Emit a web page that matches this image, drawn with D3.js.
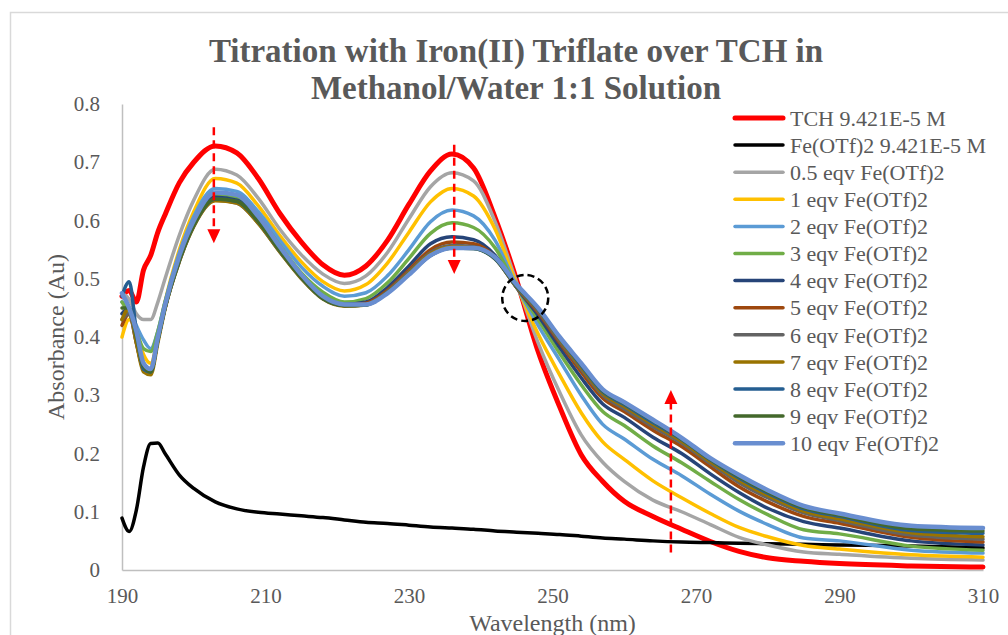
<!DOCTYPE html>
<html>
<head>
<meta charset="utf-8">
<script src="https://cdn.jsdelivr.net/npm/d3@7"></script>
<style>
  body { margin: 0; background: #fff; }
  svg text { font-family: "Liberation Serif", "Times New Roman", serif; fill: #595959; }
</style>
</head>
<body>
<svg id="chart" width="1008" height="635"></svg>
<script>
// wavelengths (nm)
var wavelengths = [190,191,192,193,194,195,196,198,200,203,206,209,212,215,218,221,224,227,230,233,236,239,242,245,248,251,254,257,260,264,268,272,276,280,285,290,300,310];

var tch = [0.47,0.48,0.46,0.515,0.54,0.58,0.61,0.665,0.70, 0.728,0.716,0.672,0.612,0.563,0.524,0.506,0.522,0.566,0.628,0.685,0.714,0.69,0.605,0.498, 0.375,0.28,0.198,0.152,0.118, 0.092,0.07,0.049,0.032,0.021, 0.015,0.011,0.007,0.005];
var feOTf = [0.089,0.066,0.103,0.177,0.217,0.218,0.2,0.163,0.14, 0.117,0.105,0.099,0.096,0.093,0.09,0.086,0.082,0.08,0.077,0.074,0.072,0.07,0.067,0.065, 0.063,0.061,0.058,0.055,0.053, 0.05,0.048,0.047,0.046,0.045, 0.044,0.043,0.041,0.038];
var eq05 = [0.475,0.465,0.44,0.43,0.43,0.46,0.50,0.575,0.635, 0.688,0.678,0.638,0.585,0.541,0.508,0.492,0.505,0.545,0.603,0.658,0.682,0.668,0.598,0.494, 0.39,0.305,0.232,0.185,0.152, 0.12,0.1,0.078,0.056,0.043, 0.031,0.027,0.02,0.017];
var eq1 = [0.40,0.43,0.41,0.37,0.355,0.40,0.46,0.55,0.615, 0.672,0.664,0.625,0.574,0.529,0.495,0.479,0.49,0.527,0.58,0.632,0.655,0.642,0.585,0.49, 0.405,0.335,0.27,0.22,0.19, 0.153,0.124,0.097,0.073,0.057, 0.042,0.036,0.026,0.022];
var eq2 = [0.46,0.45,0.42,0.395,0.38,0.41,0.46,0.545,0.607, 0.655,0.65,0.615,0.566,0.52,0.487,0.47,0.476,0.505,0.55,0.598,0.618,0.608,0.566,0.487, 0.42,0.36,0.3,0.25,0.225, 0.19,0.162,0.13,0.101,0.078, 0.055,0.05,0.034,0.029];
var eq3 = [0.46,0.44,0.41,0.38,0.375,0.41,0.46,0.54,0.6, 0.645,0.64,0.606,0.557,0.51,0.477,0.46,0.466,0.493,0.535,0.578,0.596,0.588,0.553,0.486, 0.43,0.372,0.318,0.272,0.248, 0.213,0.184,0.152,0.121,0.095, 0.069,0.062,0.041,0.034];
var eq4 = [0.44,0.45,0.40,0.355,0.345,0.40,0.455,0.535,0.595, 0.64,0.635,0.6,0.55,0.505,0.47,0.456,0.46,0.485,0.522,0.56,0.572,0.567,0.54,0.485, 0.437,0.382,0.33,0.285,0.262, 0.228,0.2,0.165,0.133,0.106, 0.083,0.072,0.05,0.043];
var eq5 = [0.42,0.44,0.39,0.345,0.34,0.395,0.45,0.532,0.592, 0.636,0.632,0.597,0.548,0.503,0.468,0.455,0.458,0.48,0.515,0.55,0.563,0.56,0.537,0.485, 0.442,0.39,0.34,0.295,0.272, 0.24,0.212,0.177,0.143,0.117, 0.092,0.08,0.056,0.048];
var eq6 = [0.43,0.44,0.39,0.345,0.34,0.395,0.45,0.53,0.59, 0.635,0.63,0.595,0.546,0.501,0.466,0.454,0.456,0.478,0.512,0.545,0.557,0.555,0.535,0.485, 0.445,0.393,0.345,0.3,0.277, 0.246,0.218,0.183,0.15,0.124, 0.098,0.085,0.06,0.053];
var eq7 = [0.43,0.45,0.39,0.34,0.335,0.39,0.448,0.53,0.59, 0.634,0.63,0.595,0.546,0.5,0.465,0.453,0.455,0.477,0.51,0.543,0.555,0.553,0.534,0.486, 0.447,0.396,0.348,0.303,0.281, 0.25,0.221,0.186,0.154,0.128, 0.101,0.088,0.064,0.057];
var eq8 = [0.47,0.495,0.41,0.345,0.34,0.395,0.45,0.532,0.592, 0.637,0.633,0.598,0.548,0.502,0.466,0.454,0.455,0.476,0.508,0.54,0.553,0.552,0.534,0.487, 0.448,0.398,0.351,0.306,0.284, 0.253,0.224,0.189,0.158,0.132, 0.105,0.092,0.068,0.063];
var eq9 = [0.45,0.45,0.40,0.35,0.34,0.395,0.45,0.532,0.592, 0.637,0.633,0.598,0.548,0.502,0.466,0.454,0.455,0.476,0.508,0.54,0.553,0.552,0.535,0.488, 0.449,0.399,0.353,0.308,0.286, 0.256,0.225,0.19,0.16,0.134, 0.107,0.094,0.071,0.067];
var eq10 = [0.475,0.45,0.41,0.355,0.345,0.40,0.455,0.54,0.6, 0.648,0.644,0.607,0.555,0.507,0.47,0.456,0.456,0.475,0.507,0.54,0.553,0.553,0.537,0.49, 0.45,0.40,0.355,0.31,0.288, 0.258,0.227,0.192,0.163,0.137, 0.11,0.097,0.076,0.072];

var seriesNames = ["TCH 9.421E-5 M", "Fe(OTf)2 9.421E-5 M", "0.5 eqv Fe(OTf)2", "1 eqv Fe(OTf)2", "2 eqv Fe(OTf)2", "3 eqv Fe(OTf)2", "4 eqv Fe(OTf)2", "5 eqv Fe(OTf)2", "6 eqv Fe(OTf)2", "7 eqv Fe(OTf)2", "8 eqv Fe(OTf)2", "9 eqv Fe(OTf)2", "10 eqv Fe(OTf)2"];
var seriesValues = [tch, feOTf, eq05, eq1, eq2, eq3, eq4, eq5, eq6, eq7, eq8, eq9, eq10];

var xTicks = [190, 210, 230, 250, 270, 290, 310];
var yTicks = [0, 0.1, 0.2, 0.3, 0.4, 0.5, 0.6, 0.7, 0.8];

// annotations: dashed arrows (wavelength, from, to) and isosbestic circle
var arrowWl = [202.8, 236.3, 266.5];
var arrowFrom = [0.76, 0.73, 0.03];
var arrowTo = [0.561, 0.508, 0.309];
var isoWl = 246.2, isoAbs = 0.467;

var colors = ["#ff0000", "#000000", "#a5a5a5", "#ffc000", "#5b9bd5", "#70ad47", "#264478", "#9e480e", "#636363", "#997300", "#255e91", "#43682b", "#698ed0"];
var widths = [5, 3.5, 3.5, 3.5, 3.5, 3.5, 3.5, 3.5, 3.5, 3.5, 3.5, 3.5, 4.5];

var svg = d3.select('#chart');

// chart area border
svg.append('rect')
    .attr('x', 10.5).attr('y', 12.5)
    .attr('width', 1100).attr('height', 700)
    .attr('fill', 'none').attr('stroke', '#d9d9d9').attr('stroke-width', 1.5);

var x = d3.scaleLinear().domain([190, 310]).range([122, 983]);
var y = d3.scaleLinear().domain([0, 0.8]).range([570, 104]);

// title
svg.append('text')
    .attr('x', 516).attr('y', 62)
    .attr('text-anchor', 'middle')
    .style('font-size', '33px').style('font-weight', 'bold')
    .text('Titration with Iron(II) Triflate over TCH in');
svg.append('text')
    .attr('x', 516).attr('y', 99)
    .attr('text-anchor', 'middle')
    .style('font-size', '33px').style('font-weight', 'bold')
    .text('Methanol/Water 1:1 Solution');

// axes
var xAxis = svg.append('g')
    .attr('transform', 'translate(0,570)')
    .call(d3.axisBottom(x).tickValues(xTicks).tickSize(0).tickPadding(18));
var yAxis = svg.append('g')
    .attr('transform', 'translate(122,0)')
    .call(d3.axisLeft(y).tickValues(yTicks).tickSize(0).tickPadding(22)
        .tickFormat(function (d) { return d === 0 ? '0' : d3.format('.1f')(d); }));

[xAxis, yAxis].forEach(function (g) {
    g.select('.domain').attr('stroke', '#bfbfbf').attr('stroke-width', 1.5);
    g.selectAll('text')
        .style('font-family', '"Liberation Serif", "Times New Roman", serif')
        .style('font-size', '21px')
        .attr('fill', '#595959');
});
xAxis.selectAll('text').attr('dy', '0.71em');

svg.append('text')
    .attr('transform', 'translate(56,' + ((104 + 570) / 2) + ') rotate(-90)')
    .attr('text-anchor', 'middle')
    .attr('dy', '0.35em')
    .style('font-size', '24px')
    .text('Absorbance (Au)');
svg.append('text')
    .attr('x', (122 + 983) / 2).attr('y', 631)
    .attr('text-anchor', 'middle')
    .style('font-size', '24px')
    .text('Wavelength (nm)');

// series lines
var line = d3.line()
    .x(function (d) { return x(d[0]); })
    .y(function (d) { return y(d[1]); })
    .curve(d3.curveMonotoneX);

var plot = svg.append('g');
seriesValues.forEach(function (vals, i) {
    plot.append('path')
        .datum(wavelengths.map(function (w, j) { return [w, vals[j]]; }))
        .attr('d', line)
        .attr('fill', 'none')
        .attr('stroke', colors[i])
        .attr('stroke-width', widths[i])
        .attr('stroke-linejoin', 'round')
        .attr('stroke-linecap', 'round');
});

// arrows
var ann = svg.append('g');
arrowWl.forEach(function (w, i) {
    var x0 = x(w), yFrom = y(arrowFrom[i]), yTo = y(arrowTo[i]);
    var dir = yTo > yFrom ? 1 : -1;
    var head = 14;
    ann.append('line')
        .attr('x1', x0).attr('x2', x0)
        .attr('y1', yFrom).attr('y2', yTo - dir * head)
        .attr('stroke', '#ff0000').attr('stroke-width', 2.5)
        .attr('stroke-dasharray', '8,5');
    ann.append('path')
        .attr('d', 'M' + (x0 - 6.5) + ',' + (yTo - dir * head) + 'L' + (x0 + 6.5) + ',' + (yTo - dir * head) + 'L' + x0 + ',' + yTo + 'Z')
        .attr('fill', '#ff0000');
});

ann.append('circle')
    .attr('cx', x(isoWl)).attr('cy', y(isoAbs)).attr('r', 23)
    .attr('fill', 'none').attr('stroke', '#000').attr('stroke-width', 2.5)
    .attr('stroke-dasharray', '7,4');

// legend
var legend = svg.append('g').attr('transform', 'translate(735,118)');
seriesNames.forEach(function (name, i) {
    var g = legend.append('g').attr('transform', 'translate(0,' + (i * 27.1) + ')');
    g.append('line')
        .attr('x1', 0).attr('x2', 48)
        .attr('stroke', colors[i])
        .attr('stroke-width', widths[i])
        .attr('stroke-linecap', 'round');
    g.append('text')
        .attr('x', 55).attr('dy', '0.35em')
        .style('font-size', '22px')
        .text(name);
});
</script>
</body>
</html>
